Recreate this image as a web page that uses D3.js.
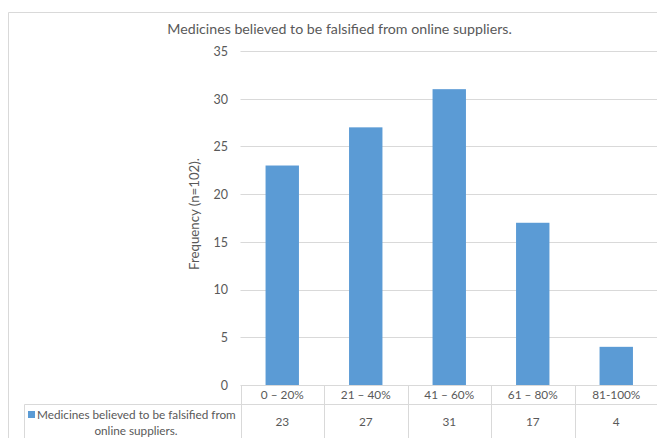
<!DOCTYPE html>
<html>
<head>
<meta charset="utf-8">
<script src="https://cdn.jsdelivr.net/npm/d3@7"></script>
<style>
  html, body { margin: 0; padding: 0; background: #fff; }
  svg { display: block; }
  text { font-family: Lato, "Open Sans", sans-serif; fill: #595959; }
</style>
</head>
<body>
<svg id="chart" width="657" height="438"></svg>
<script>
// Data
const categories = ["0 – 20%", "21 – 40%", "41 – 60%", "61 – 80%", "81-100%"];
const frequencies = [23, 27, 31, 17, 4];
const yTicks = [0, 5, 10, 15, 20, 25, 30, 35];
const seriesNameLines = ["Medicines believed to be falsified from", "online suppliers."];
const titleText = "Medicines believed to be falsified from online suppliers.";
const yLabel = "Frequency (n=102).";

const W = 657, H = 438;
const plot = { left: 240.5, right: 658, top: 51, bottom: 385 };
const barColor = "#5B9BD5";
const gridColor = "#d9d9d9";

const svg = d3.select("#chart");

// Pick a font size so that a given string occupies the wanted width
function fitSize(str, width, base) {
  const t = svg.append("text").style("font-size", base + "px").text(str);
  const w = t.node().getComputedTextLength();
  t.remove();
  return base * width / w;
}
const titleSize = fitSize(titleText, 345, 14);
const legendSize = fitSize(seriesNameLines[0], 199, 12);
const catSize = fitSize(categories[0], 43, 12);
const tickSize = fitSize("35", 14.5, 12);
const yLabelSize = fitSize(yLabel, 112, 12);

// Outer chart frame
svg.append("path")
  .attr("d", `M8.5,${H + 2} V12.5 H${W + 2}`)
  .attr("fill", "none").attr("stroke", gridColor).attr("stroke-width", 1);

const x = d3.scaleBand().domain(categories).range([plot.left, plot.right]).paddingInner(0.6).paddingOuter(0.3);
const xCell = d3.scaleBand().domain(categories).range([plot.left, plot.right]);
const y = d3.scaleLinear().domain([0, 35]).range([plot.bottom, plot.top]);

// Title
svg.append("text")
  .attr("x", 339.5).attr("y", 29)
  .attr("dy", "0.35em")
  .attr("text-anchor", "middle")
  .style("font-size", titleSize + "px")
  .text(titleText);

// Gridlines
svg.append("g")
  .selectAll("line")
  .data(yTicks.filter(d => d > 0))
  .join("line")
  .attr("x1", plot.left).attr("x2", W)
  .attr("y1", d => Math.round(y(d)) + 0.5).attr("y2", d => Math.round(y(d)) + 0.5)
  .attr("stroke", gridColor).attr("stroke-width", 1);

// Y axis labels
const yAxis = d3.axisLeft(y).tickValues(yTicks).tickSize(0).tickPadding(0);
const gy = svg.append("g").attr("transform", `translate(228,0)`).call(yAxis);
gy.select(".domain").remove();
gy.attr("font-family", null).attr("font-size", null);
gy.selectAll("text").style("font-size", tickSize + "px").attr("fill", "#595959").attr("dy", "0.35em");

// Y axis title
svg.append("text")
  .attr("transform", `translate(199,${214}) rotate(-90)`)
  .attr("text-anchor", "middle")
  .style("font-size", yLabelSize + "px")
  .text(yLabel);

// Bars
svg.append("g")
  .selectAll("rect")
  .data(frequencies)
  .join("rect")
  .attr("x", (d, i) => x(categories[i]))
  .attr("width", x.bandwidth())
  .attr("y", d => y(d))
  .attr("height", d => y(0) - y(d))
  .attr("fill", barColor);

// Data table
const table = svg.append("g").attr("stroke", gridColor).attr("stroke-width", 1).attr("fill", "none");
table.append("line").attr("x1", plot.left).attr("x2", W).attr("y1", plot.bottom + 0.5).attr("y2", plot.bottom + 0.5);
table.append("line").attr("x1", 24.5).attr("x2", W).attr("y1", 404.5).attr("y2", 404.5);
table.append("line").attr("x1", 24.5).attr("x2", 24.5).attr("y1", 404.5).attr("y2", H + 2);
table.selectAll("line.col")
  .data(categories)
  .join("line")
  .attr("class", "col")
  .attr("x1", d => Math.round(xCell(d)) + 0.5).attr("x2", d => Math.round(xCell(d)) + 0.5)
  .attr("y1", plot.bottom).attr("y2", H + 2);

// Category labels
svg.append("g")
  .selectAll("text")
  .data(categories)
  .join("text")
  .attr("x", d => xCell(d) + xCell.bandwidth() / 2)
  .attr("y", 395)
  .attr("dy", "0.35em")
  .attr("text-anchor", "middle")
  .style("font-size", catSize + "px")
  .text(d => d);

// Values row
svg.append("g")
  .selectAll("text")
  .data(frequencies)
  .join("text")
  .attr("x", (d, i) => xCell(categories[i]) + xCell.bandwidth() / 2)
  .attr("y", 422)
  .attr("dy", "0.35em")
  .attr("text-anchor", "middle")
  .style("font-size", catSize + "px")
  .text(d => d);

// Legend key in the table
svg.append("rect")
  .attr("x", 28).attr("y", 411).attr("width", 7).attr("height", 7)
  .attr("fill", barColor);
svg.append("text")
  .attr("x", 37).attr("y", 414.5)
  .attr("dy", "0.35em")
  .style("font-size", legendSize + "px")
  .text(seriesNameLines[0]);
svg.append("text")
  .attr("x", 136).attr("y", 430.5)
  .attr("dy", "0.35em")
  .attr("text-anchor", "middle")
  .style("font-size", legendSize + "px")
  .text(seriesNameLines[1]);
</script>
</body>
</html>
